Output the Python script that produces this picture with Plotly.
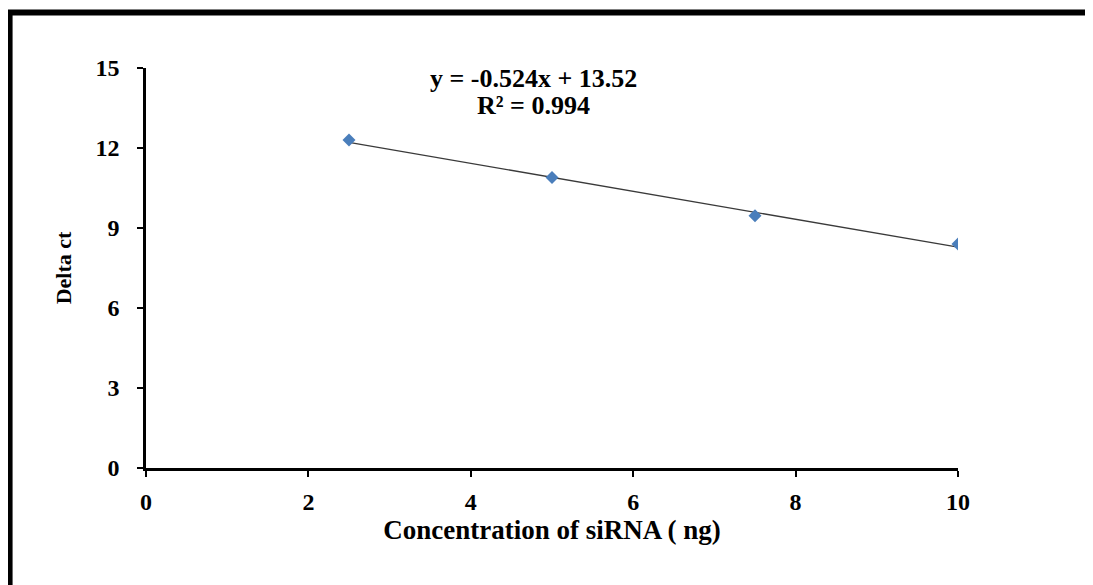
import plotly.graph_objects as go

# Data
concentration_ng = [2.5, 5.0, 7.5, 10.0]
delta_ct = [12.30, 10.89, 9.46, 8.40]

# Linear trendline reported on the chart
trend_slope = -0.524
trend_intercept = 13.52
r_squared = 0.994

x_ticks = [0, 2, 4, 6, 8, 10]
y_ticks = [0, 3, 6, 9, 12, 15]

trend_x = [min(concentration_ng), max(concentration_ng)]
trend_y = [trend_slope * v + trend_intercept for v in trend_x]

FONT = "Liberation Serif"

# page is rendered with an 8px body margin; figure coordinates are offset accordingly
OFF = 8
W, H = 1093 - OFF, 585 - OFF
L, T = 145.5 - OFF, 68 - OFF
PW, PH = 812.5, 400


def px_to_paper_x(px_page):
    return (px_page - OFF - L) / PW


def px_to_paper_y(py_page):
    return (T + PH - (py_page - OFF)) / PH


fig = go.Figure()
fig.add_trace(go.Scatter(
    x=trend_x, y=trend_y, mode="lines",
    line=dict(color="#3a3a3a", width=1.3),
    hoverinfo="skip", showlegend=False,
))
fig.add_trace(go.Scatter(
    x=concentration_ng, y=delta_ct, mode="markers",
    marker=dict(symbol="diamond", size=10, color="#4A7EBB"),
    showlegend=False,
))

axis_common = dict(
    showgrid=False, zeroline=False, showline=True,
    linecolor="black", linewidth=2.5,
    ticks="outside", ticklen=6, tickwidth=2, tickcolor="black",
    tickfont=dict(family=FONT, size=24, color="black", weight="bold"),
)

fig.update_xaxes(
    range=[0, 10], tickvals=x_ticks, ticklabelstandoff=4,
    title=dict(text="<b>Concentration of siRNA ( ng)</b>",
               font=dict(family=FONT, size=27, color="black"), standoff=2),
    **axis_common,
)
fig.update_yaxes(
    range=[0, 15], tickvals=y_ticks, ticklabelstandoff=13,
    title=dict(text="<b>Delta ct</b>",
               font=dict(family=FONT, size=22, color="black"), standoff=18),
    **axis_common,
)

fig.add_annotation(
    x=px_to_paper_x(533), y=px_to_paper_y(79), xref="paper", yref="paper",
    xanchor="center", yanchor="middle",
    text=f"<b>y = {trend_slope}x + {trend_intercept}</b>",
    showarrow=False, font=dict(family=FONT, size=26, color="black"),
)
fig.add_annotation(
    x=px_to_paper_x(533), y=px_to_paper_y(105), xref="paper", yref="paper",
    xanchor="center", yanchor="middle",
    text=f"<b>R² = {r_squared}</b>",
    showarrow=False, font=dict(family=FONT, size=26, color="black"),
)

# Outer frame (top and left edges visible in the reference)
fig.add_shape(type="line", xref="paper", yref="paper",
              x0=px_to_paper_x(3), x1=px_to_paper_x(1100),
              y0=px_to_paper_y(12.5), y1=px_to_paper_y(12.5),
              line=dict(color="black", width=6))
fig.add_shape(type="line", xref="paper", yref="paper",
              x0=px_to_paper_x(9), x1=px_to_paper_x(9),
              y0=px_to_paper_y(10), y1=px_to_paper_y(600),
              line=dict(color="black", width=6))

fig.update_layout(
    width=W, height=H,
    margin=dict(l=L, r=W - L - PW, t=T, b=H - T - PH),
    paper_bgcolor="white", plot_bgcolor="white",
    showlegend=False,
)

fig.write_html("out.html")
